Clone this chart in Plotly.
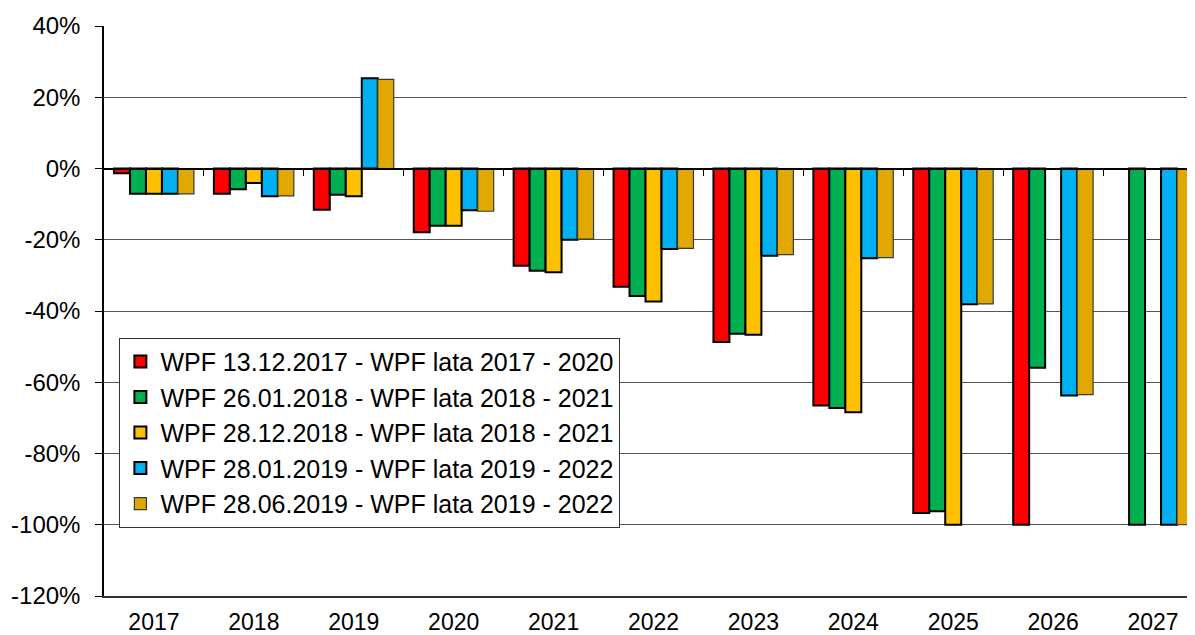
import plotly.graph_objects as go

years = ["2017", "2018", "2019", "2020", "2021", "2022", "2023", "2024", "2025", "2026", "2027"]

wpf_2017_12_13 = [-1.3, -7.1, -11.6, -17.9, -27.3, -33.2, -48.7, -66.5, -96.7, -100.0, None]
wpf_2018_01_26 = [-7.1, -5.8, -7.4, -16.1, -28.7, -35.8, -46.4, -67.2, -96.2, -55.9, -100.0]
wpf_2018_12_28 = [-7.1, -4.1, -7.8, -16.1, -29.1, -37.3, -46.7, -68.4, -100.0, None, None]
wpf_2019_01_28 = [-7.1, -7.8, 25.3, -11.7, -20.0, -22.6, -24.5, -25.2, -38.1, -63.7, -100.0]
wpf_2019_06_28 = [-7.1, -7.7, 25.0, -12.0, -19.8, -22.4, -24.2, -25.0, -38.0, -63.5, -100.0]

series_names = [
    "WPF 13.12.2017 - WPF lata 2017 - 2020",
    "WPF 26.01.2018 - WPF lata 2018 - 2021",
    "WPF 28.12.2018 - WPF lata 2018 - 2021",
    "WPF 28.01.2019 - WPF lata 2019 - 2022",
    "WPF 28.06.2019 - WPF lata 2019 - 2022",
]
series_values = [wpf_2017_12_13, wpf_2018_01_26, wpf_2018_12_28, wpf_2019_01_28, wpf_2019_06_28]
colors = ["#FF0000", "#00B050", "#FFC000", "#00B0F0", "#E0A800"]
outline_colors = ["#000000", "#000000", "#000000", "#000000", "#3a3a3a"]
outline_widths = [2, 2, 2, 2, 1.2]

y_ticks = [-120, -100, -80, -60, -40, -20, 0, 20, 40]
y_tick_labels = [f"{v}%" for v in y_ticks]

FONT = "Arial, Liberation Sans, sans-serif"

n = len(years)
cat_range = [-0.5, n - 0.5]
boundaries = [i + 0.5 for i in range(n - 1)]

fig = go.Figure()
for name, vals, c, oc, ow in zip(series_names, series_values, colors, outline_colors, outline_widths):
    fig.add_trace(go.Bar(
        x=years, y=vals, name=name,
        marker=dict(color=c, line=dict(color=oc, width=ow)),
    ))

# helper axis carrying the category axis line at y = 0 (with boundary ticks)
fig.add_trace(go.Scatter(x=list(range(n)), y=[None] * n, xaxis="x2",
                         showlegend=False, hoverinfo="skip", mode="markers"))

fig.update_layout(
    width=1195, height=635,
    margin=dict(l=96, r=0, t=18, b=47, autoexpand=False),
    paper_bgcolor="white", plot_bgcolor="white",
    barmode="group", bargap=0.2, bargroupgap=0,
    font=dict(family=FONT, color="#000000"),
    showlegend=True,
    legend=dict(
        x=0.014, y=0.453, xanchor="left", yanchor="top",
        bgcolor="white", bordercolor="#333333", borderwidth=1,
        font=dict(size=25, family=FONT, color="#000000"),
        itemwidth=30, tracegroupgap=0,
    ),
    xaxis=dict(
        type="category", range=cat_range, automargin=False,
        showline=True, linecolor="#333333", linewidth=1.5,
        ticks="", showgrid=False, zeroline=False,
        tickfont=dict(size=23, family=FONT, color="#000000"),
        ticklabelstandoff=5,
    ),
    xaxis2=dict(
        type="linear", overlaying="x", range=cat_range,
        anchor="free", position=0.75, side="bottom",
        showline=True, linecolor="#000000", linewidth=1.5,
        tickmode="array", tickvals=boundaries,
        ticks="outside", ticklen=7, tickcolor="#000000", tickwidth=1.2,
        showticklabels=False, showgrid=False, zeroline=False,
        layer="above traces",
    ),
    yaxis=dict(
        range=[-120, 40], tickvals=y_ticks, ticktext=y_tick_labels, automargin=False,
        showline=True, linecolor="#000000", linewidth=1.5,
        ticks="outside", ticklen=7, tickcolor="#000000",
        showgrid=True, gridcolor="#555555", gridwidth=1,
        zeroline=False,
        tickfont=dict(size=24, family=FONT, color="#000000"),
        ticklabelstandoff=10,
    ),
)

fig.write_html("out.html")
